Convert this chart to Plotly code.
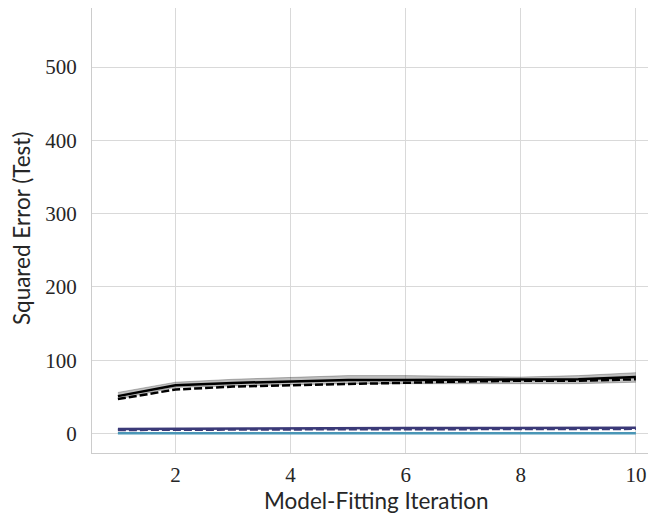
import plotly.graph_objects as go

iterations = [1, 2, 3, 4, 5, 6, 7, 8, 9, 10]
black_mean = [51, 66, 69, 71, 73, 73, 73, 73, 74, 77]
black_upper = [56, 70, 74, 77, 79, 79, 78, 77, 79, 83]
black_lower = [47, 63, 65, 67, 68, 68, 68, 69, 68, 70]
black_dashed = [47, 60, 64, 66, 68, 70, 71, 72, 72, 74]
navy_mean = [6, 6.5, 7, 7, 7.5, 7.5, 7.5, 7.5, 7.5, 8]
navy_dashed = [4.5, 5, 5, 5.5, 5.5, 5.5, 5.5, 5.5, 5.5, 6]
teal_line = [0.5, 0.5, 0.5, 0.5, 0.5, 0.5, 0.5, 0.5, 0.5, 0.5]
y_ticks = [0, 100, 200, 300, 400, 500]
x_ticks = [2, 4, 6, 8, 10]

fig = go.Figure()
fig.add_trace(go.Scatter(x=iterations, y=black_upper, mode="lines",
                         line=dict(color="rgba(0,0,0,0.25)", width=1), showlegend=False))
fig.add_trace(go.Scatter(x=iterations, y=black_lower, mode="lines", fill="tonexty",
                         fillcolor="rgba(0,0,0,0.25)",
                         line=dict(color="rgba(0,0,0,0.25)", width=1), showlegend=False))
fig.add_trace(go.Scatter(x=iterations, y=black_mean, mode="lines",
                         line=dict(color="black", width=2.5), showlegend=False))
fig.add_trace(go.Scatter(x=iterations, y=black_dashed, mode="lines",
                         line=dict(color="black", width=2.5, dash="8px,3px"), showlegend=False))
fig.add_trace(go.Scatter(x=iterations, y=teal_line, mode="lines",
                         line=dict(color="#4a96b6", width=2.5), showlegend=False))
fig.add_trace(go.Scatter(x=iterations, y=navy_mean, mode="lines",
                         line=dict(color="#3b3a78", width=2.5), showlegend=False))
fig.add_trace(go.Scatter(x=iterations, y=navy_dashed, mode="lines",
                         line=dict(color="#3b3a78", width=2, dash="8px,3px"), showlegend=False))

fig.update_layout(
    width=648, height=513,
    margin=dict(l=92, r=0, t=8, b=60),
    plot_bgcolor="white", paper_bgcolor="white",
    font=dict(family="Liberation Serif", size=21, color="#262626"),
    annotations=[
        dict(text="Model-Fitting Iteration", xref="paper", yref="paper",
             x=0.511, y=-0.106, xanchor="center", yanchor="middle", showarrow=False,
             font=dict(family="Lato", size=22.5, color="#262626")),
        dict(text="Squared Error (Test)", xref="paper", yref="paper",
             x=-0.128, y=0.505, xanchor="center", yanchor="middle", showarrow=False,
             textangle=-90, font=dict(family="Lato", size=22.5, color="#262626")),
    ],
)
fig.update_xaxes(range=[0.55, 10.21], tickvals=x_ticks, showgrid=True, gridcolor="#d9d9d9",
                 gridwidth=1, zeroline=False, showline=True, linecolor="#cccccc", linewidth=1,
                 ticks="", ticklabelstandoff=3)
fig.update_yaxes(range=[-26.6, 580.7], tickvals=y_ticks, showgrid=True, gridcolor="#d9d9d9",
                 gridwidth=1, zeroline=False, showline=True, linecolor="#cccccc", linewidth=1,
                 ticks="", ticklabelstandoff=10)

fig.write_html("out.html")
